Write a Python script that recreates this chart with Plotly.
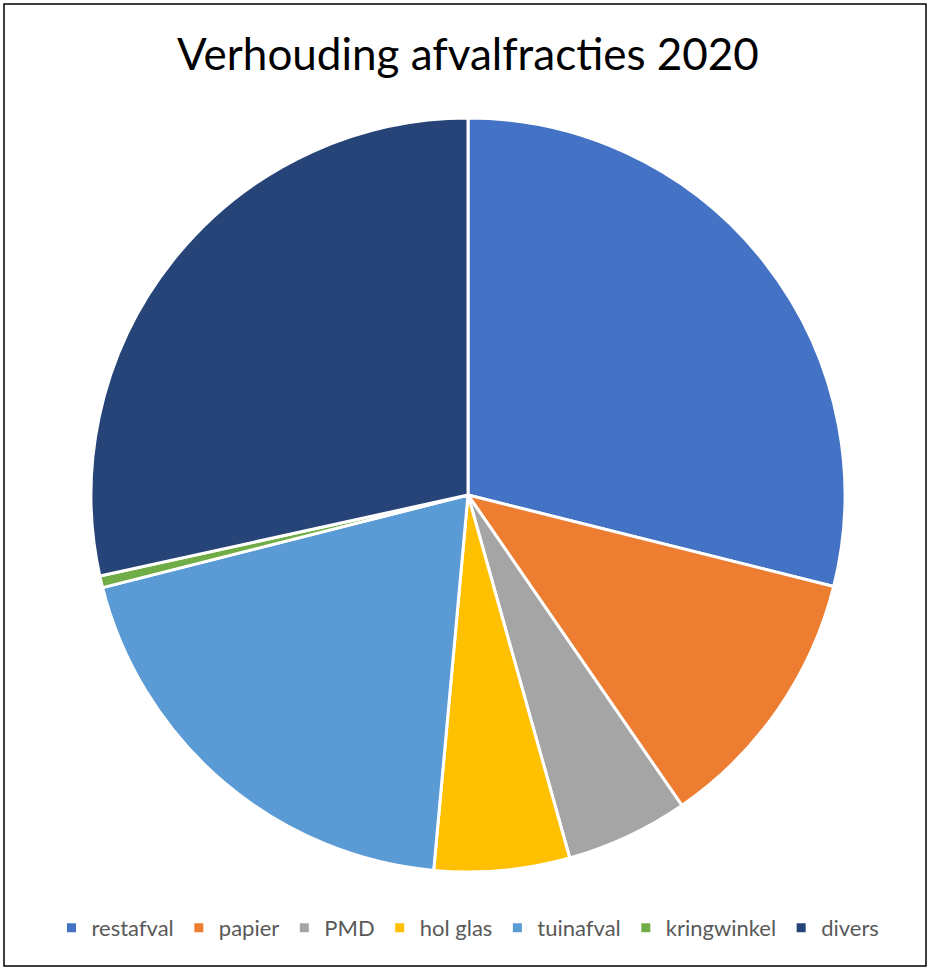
import plotly.graph_objects as go

categories = ["restafval", "papier", "PMD", "hol glas", "tuinafval", "kringwinkel", "divers"]
values = [28.9, 11.5, 5.25, 5.8, 19.6, 0.5, 28.45]
colors = ["#4472C4", "#ED7D31", "#A5A5A5", "#FFC000", "#5B9BD5", "#70AD47", "#264478"]

W, H = 929, 970
FONT = "Lato, Noto Sans, sans-serif"

fig = go.Figure(go.Pie(
    labels=categories,
    values=values,
    sort=False,
    direction="clockwise",
    rotation=0,
    textinfo="none",
    hoverinfo="label+value",
    marker=dict(colors=colors, line=dict(color="white", width=3)),
    domain=dict(x=[91 / W, 845 / W], y=[1 - 872 / H, 1 - 118 / H]),
))

fig.update_layout(
    width=W, height=H,
    margin=dict(l=0, r=0, t=0, b=0),
    paper_bgcolor="white",
    title=dict(text="Verhouding afvalfracties 2020", x=468 / W, xanchor="center",
               y=1 - 55 / H, yanchor="middle",
               font=dict(family=FONT, size=44, color="#000000")),
    legend=dict(orientation="h", x=468 / W, xanchor="center", y=1 - 928 / H, yanchor="middle",
                font=dict(family=FONT, size=22, color="#595959"),
                itemwidth=30, traceorder="normal"),
    shapes=[dict(type="rect", xref="paper", yref="paper",
                 x0=4 / W, x1=926 / W, y0=1 - 966 / H, y1=1 - 4 / H,
                 line=dict(color="#000000", width=1.5), fillcolor="rgba(0,0,0,0)")],
)

fig.write_html("out.html", config={"displayModeBar": False},
               post_script="document.body.style.margin='0px';document.body.style.overflow='hidden';")
